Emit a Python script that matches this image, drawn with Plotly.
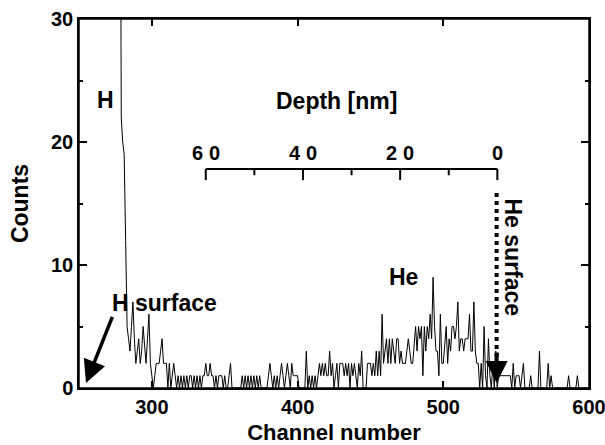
import plotly.graph_objects as go

# ---- data ----
channels = list(range(278, 601))
counts = [
    60, 22,                          # 278-279
    20, 19, 12, 5, 4, 3, 5, 7, 4, 2,  # 280-289
    3, 4, 2, 3, 5, 3, 2, 4, 6, 2,     # 290-299
    1, 0, 1, 2, 2, 2, 3, 4, 2, 2,     # 300-309
    2, 0, 2, 0, 1, 2, 1, 0, 1, 0,     # 310-319
    1, 0, 1, 0, 1, 0, 1, 1, 0, 1,     # 320-329
    0, 1, 0, 1, 0, 1, 1, 2, 1, 1,     # 330-339
    2, 1, 1, 0, 1, 0, 1, 1, 1, 0,     # 340-349
    1, 0, 0, 1, 2, 0, 0, 0, 0, 0,     # 350-359
    0, 0, 1, 0, 1, 0, 1, 0, 1, 0,     # 360-369
    1, 0, 1, 0, 1, 0, 0, 0, 0, 0,     # 370-379
    1, 2, 1, 0, 1, 0, 1, 0, 1, 2,     # 380-389
    1, 0, 1, 2, 1, 0, 2, 1, 1, 1,     # 390-399
    1, 0, 0, 0, 0, 0, 3, 0, 1, 0,     # 400-409
    1, 0, 1, 0, 1, 2, 1, 2, 1, 2,     # 410-419
    1, 1, 3, 1, 2, 0, 1, 2, 0, 2,     # 420-429
    2, 2, 1, 2, 1, 2, 0, 2, 1, 2,     # 430-439
    1, 0, 2, 1, 3, 0, 0, 0, 2, 2,     # 440-449
    2, 1, 2, 1, 3, 1, 3, 1, 6, 2,     # 450-459
    3, 4, 2, 4, 2, 4, 3, 2, 4, 4,     # 460-469
    2, 3, 2, 2, 2, 3, 4, 3, 2, 2,     # 470-479
    4, 5, 3, 5, 4, 5, 1, 5, 3, 5,     # 480-489
    4, 6, 4, 9, 5, 3, 3, 1, 6, 2,     # 490-499
    2, 4, 5, 2, 4, 3, 5, 5, 4, 5,     # 500-509
    7, 3, 4, 4, 3, 4, 4, 4, 6, 3,     # 510-519
    3, 7, 3, 2, 2, 0, 2, 0, 5, 1,     # 520-529
    0, 4, 1, 0, 2, 0, 3, 0, 1, 1,     # 530-539
    1, 1, 1, 1, 1, 1, 1, 0, 2, 0,     # 540-549
    1, 1, 1, 0, 1, 2, 0, 0, 0, 0,     # 550-559
    1, 0, 0, 0, 0, 0, 3, 0, 0, 0,     # 560-569
    0, 0, 2, 0, 1, 0, 0, 0, 0, 0,     # 570-579
    0, 0, 0, 0, 0, 0, 1, 0, 0, 0,     # 580-589
    0, 0, 1, 0, 0, 0, 0, 0, 0, 0,     # 590-599
    0,                                # 600
]

x_ticks = [300, 400, 500, 600]
y_ticks = [0, 10, 20, 30]
y_minor = [5, 15, 25]

# depth scale (nm) drawn inside the plot, calibrated to channel numbers
depth_ticks = [60, 40, 20, 0]
depth_minor = [50, 30, 10]
depth_zero_channel = 537.1   # channel of the He surface (depth 0)
channels_per_nm = 3.335
depth_scale_level = 17.8     # counts level where the depth scale is drawn


def depth_to_channel(d):
    return depth_zero_channel - d * channels_per_nm


FONT = "Liberation Sans, Arial, sans-serif"
bold = lambda s: dict(family=FONT, size=s, color="black", weight="bold")

fig = go.Figure()
fig.add_trace(go.Scatter(x=channels, y=counts, mode="lines",
                         line=dict(color="black", width=1),
                         showlegend=False, hoverinfo="skip"))

shapes = [
    # plot frame
    dict(type="rect", xref="paper", yref="paper", x0=0, x1=1, y0=0, y1=1,
         line=dict(color="black", width=1.5), layer="above"),
    # He surface dotted arrow shaft
    dict(type="line", xref="x", yref="y", x0=536.6, x1=536.6,
         y0=15.85, y1=2.0, line=dict(color="black", width=4, dash="dot")),
    # depth scale base line
    dict(type="line", xref="x", yref="y",
         x0=depth_to_channel(max(depth_ticks)), x1=depth_to_channel(min(depth_ticks)),
         y0=depth_scale_level, y1=depth_scale_level,
         line=dict(color="black", width=2)),
]
for d in depth_ticks:
    c = depth_to_channel(d)
    shapes.append(dict(type="line", xref="x", yref="y", x0=c, x1=c,
                       y0=depth_scale_level, y1=depth_scale_level - 0.9,
                       line=dict(color="black", width=2)))
for d in depth_minor:
    c = depth_to_channel(d)
    shapes.append(dict(type="line", xref="x", yref="y", x0=c, x1=c,
                       y0=depth_scale_level, y1=depth_scale_level - 0.5,
                       line=dict(color="black", width=2)))

annotations = [
    dict(x=427, y=23.3, xref="x", yref="y", text="Depth [nm]",
         showarrow=False, font=bold(23)),
    dict(x=268, y=23.4, xref="x", yref="y", text="H",
         showarrow=False, font=bold(23)),
    dict(x=308.5, y=6.9, xref="x", yref="y", text="H surface",
         showarrow=False, font=bold(23)),
    dict(x=254.8, y=0.4, xref="x", yref="y", ax=273.3, ay=5.9,
         axref="x", ayref="y", text="", showarrow=True,
         arrowhead=2, arrowsize=1.3, arrowwidth=3.5, arrowcolor="black"),
    dict(x=472.5, y=9.0, xref="x", yref="y", text="He",
         showarrow=False, font=bold(23)),
    dict(x=547.5, y=10.65, xref="x", yref="y", text="He surface",
         textangle=90, showarrow=False, font=bold(23)),
    dict(x=536.6, y=0.4, xref="x", yref="y", ax=536.6, ay=3.0,
         axref="x", ayref="y", text="", showarrow=True,
         arrowhead=2, arrowsize=1.1, arrowwidth=4, arrowcolor="black"),
]
for d in depth_ticks:
    annotations.append(dict(
        x=depth_to_channel(d), y=depth_scale_level + 1.3,
        xref="x", yref="y",
        text='<span style="letter-spacing:6px">%d</span>' % d,
        xshift=3,
        showarrow=False, font=bold(20)))

fig.update_layout(
    width=605, height=445,
    margin=dict(l=79, r=16, t=19, b=57),
    paper_bgcolor="white", plot_bgcolor="white",
    font=dict(family=FONT, color="black"),
    xaxis=dict(
        range=[250, 600], tickvals=x_ticks, ticks="inside", ticklen=7,
        tickwidth=1.5, tickcolor="black", showline=True, linewidth=1.5,
        linecolor="black", mirror="ticks", showgrid=False, zeroline=False,
        tickfont=bold(20), automargin=False, ticklabeloverflow="allow",
        title=dict(text="Channel number", font=bold(22), standoff=8),
    ),
    yaxis=dict(
        range=[0, 30], tickvals=y_ticks, ticks="inside", ticklen=8,
        tickwidth=1.5, tickcolor="black", showline=True, linewidth=1.5,
        linecolor="black", mirror="ticks", showgrid=False, zeroline=False,
        minor=dict(tickvals=y_minor, ticks="inside", ticklen=4,
                   tickwidth=1.5, tickcolor="black", showgrid=False),
        tickfont=bold(20), automargin=False, ticklabeloverflow="allow",
        title=dict(text="Counts", font=bold(23), standoff=16),
    ),
    shapes=shapes,
    annotations=annotations,
)

fig.write_html(
    "out.html",
    config={"displayModeBar": False},
    post_script="document.body.style.margin='0';document.body.style.padding='0';",
)
